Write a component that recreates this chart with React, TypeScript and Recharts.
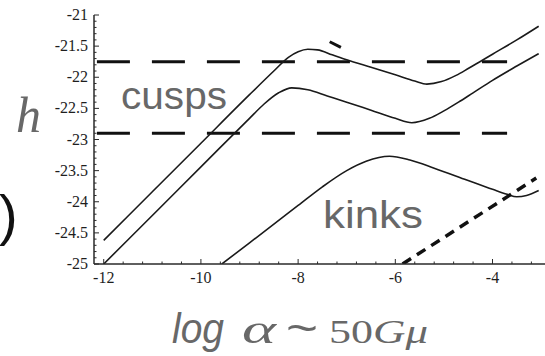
import React from "react";
import { LineChart, Line, XAxis, YAxis } from "recharts";

// log alpha values (x) and h values for each curve
const cuspUpperX = [-12, -11, -10, -9, -8.5, -8.2, -8.0, -7.8, -7.6, -7.3, -7.0, -6.5, -6.0, -5.6, -5.35, -5.05, -4.75, -4.5, -4.26, -4.0, -3.5, -3.05];
const cuspUpperH = [-24.62, -23.84, -23.06, -22.28, -21.9, -21.68, -21.59, -21.55, -21.56, -21.64, -21.72, -21.84, -21.96, -22.06, -22.11, -22.07, -21.97, -21.86, -21.75, -21.63, -21.4, -21.18];

const cuspLowerX = [-12, -11, -10, -9, -8.7, -8.4, -8.13, -7.8, -7.4, -7.0, -6.5, -6.0, -5.66, -5.3, -5.0, -4.7, -4.4, -4.0, -3.5, -3.05];
const cuspLowerH = [-25.0, -24.22, -23.44, -22.66, -22.43, -22.25, -22.17, -22.2, -22.3, -22.4, -22.53, -22.66, -22.73, -22.66, -22.54, -22.4, -22.25, -22.05, -21.82, -21.62];

const kinkX = [-9.57, -9, -8, -7.5, -7.0, -6.6, -6.12, -5.7, -5.2, -4.53, -4.0, -3.7, -3.5, -3.3, -3.05];
const kinkH = [-25, -24.66, -24.06, -23.76, -23.5, -23.35, -23.27, -23.33, -23.46, -23.65, -23.8, -23.88, -23.92, -23.9, -23.82];

const kinkBoundX = [-5.85, -3.1];
const kinkBoundH = [-25, -23.62];

const markX = [-7.35, -7.12];
const markH = [-21.43, -21.52];

const cuspLevels = [-21.75, -22.9];
const levelSpan = [-12.14, -3.7];

const xMajor = [-12, -10, -8, -6, -4];
const yMajor = [-25, -24.5, -24, -23.5, -23, -22.5, -22, -21.5, -21];

const xMinor: number[] = [];
for (let k = 0; k <= 22; k++) xMinor.push(Math.round((-12 + 0.4 * k) * 10) / 10);
const yMinor: number[] = [];
for (let k = 0; k <= 40; k++) yMinor.push(Math.round((-25 + 0.1 * k) * 10) / 10);

const pts = (xs: number[], hs: number[]) => xs.map((x, i) => ({ x, h: hs[i] }));

const isMajorX = (v: number) => xMajor.some((m) => Math.abs(m - v) < 1e-6);
const isMajorY = (v: number) => yMajor.some((m) => Math.abs(m - v) < 1e-6);

const AXIS = "#2a2a2a";
const GREY = "#686868";
const SERIF = "'Liberation Serif', 'Times New Roman', Times, serif";
const SANS = "'Liberation Sans', Arial, Helvetica, sans-serif";
const tickFont = { fontFamily: SERIF, fontSize: 16, fill: "#1e1e1e" };

function BottomTick(props: any) {
  const { x, y, payload } = props;
  const major = isMajorX(payload.value);
  return (
    <g>
      <line x1={x} x2={x} y1={y} y2={y - (major ? 5 : 2.5)} stroke={AXIS} strokeWidth={1} />
      {major && (
        <text x={x} y={y + 19} textAnchor="middle" style={tickFont}>
          {payload.value}
        </text>
      )}
    </g>
  );
}

function TopTick(props: any) {
  const { x, y, payload } = props;
  const major = isMajorX(payload.value);
  return <line x1={x} x2={x} y1={y} y2={y + (major ? 4 : 2.5)} stroke={AXIS} strokeWidth={1} />;
}

function LeftTick(props: any) {
  const { x, y, payload } = props;
  const major = isMajorY(payload.value);
  return (
    <g>
      <line x1={x} x2={x + (major ? 5 : 2.5)} y1={y} y2={y} stroke={AXIS} strokeWidth={1} />
      {major && (
        <text x={x - 6} y={y + 5} textAnchor="end" style={tickFont}>
          {payload.value}
        </text>
      )}
    </g>
  );
}

export default function App() {
  const curve = { type: "monotone" as const, dataKey: "h", dot: false, isAnimationActive: false, xAxisId: "b", stroke: "#1a1a1a", strokeWidth: 1.6 };
  return (
    <div style={{ position: "absolute", left: 0, top: 0, width: 545, height: 356, background: "#fff" }}>
      <LineChart width={545} height={356} margin={{ top: 15, right: 0, left: 0, bottom: 62 }}>
        <XAxis
          xAxisId="b"
          type="number"
          dataKey="x"
          domain={[-12.2, -2.92]}
          allowDataOverflow
          ticks={xMinor}
          interval={0}
          tickSize={0}
          tickMargin={0}
          tick={<BottomTick />}
          axisLine={{ stroke: AXIS, strokeWidth: 1.5 }}
          height={30}
        />
        <XAxis
          xAxisId="t"
          orientation="top"
          type="number"
          dataKey="x"
          domain={[-12.2, -2.92]}
          allowDataOverflow
          ticks={xMinor}
          interval={0}
          tickSize={0}
          tickMargin={0}
          tick={<TopTick />}
          axisLine={{ stroke: AXIS, strokeWidth: 1.5 }}
          height={0}
        />
        <YAxis
          type="number"
          domain={[-25, -21]}
          allowDataOverflow
          ticks={yMinor}
          interval={0}
          tickSize={0}
          tickMargin={0}
          tick={<LeftTick />}
          axisLine={{ stroke: AXIS, strokeWidth: 1.5 }}
          width={94}
        />
        {cuspLevels.map((lv) => (
          <Line
            key={lv}
            data={levelSpan.map((x) => ({ x, h: lv }))}
            dataKey="h"
            xAxisId="b"
            type="linear"
            dot={false}
            stroke="#111"
            strokeWidth={3}
            strokeDasharray="33 22"
            isAnimationActive={false}
          />
        ))}
        <Line {...curve} data={pts(cuspUpperX, cuspUpperH)} />
        <Line {...curve} data={pts(cuspLowerX, cuspLowerH)} />
        <Line {...curve} data={pts(kinkX, kinkH)} />
        <Line
          data={pts(kinkBoundX, kinkBoundH)}
          dataKey="h"
          xAxisId="b"
          type="linear"
          dot={false}
          stroke="#111"
          strokeWidth={3.5}
          strokeDasharray="10 7"
          isAnimationActive={false}
        />
        <Line
          data={pts(markX, markH)}
          dataKey="h"
          xAxisId="b"
          type="linear"
          dot={false}
          stroke="#111"
          strokeWidth={3}
          isAnimationActive={false}
        />
      </LineChart>
      <svg width={545} height={356} style={{ position: "absolute", left: 0, top: 0, pointerEvents: "none" }}>
        <text x={121} y={109} style={{ fontFamily: SANS, fontSize: 38, fill: GREY }} textLength={106} lengthAdjust="spacingAndGlyphs">
          cusps
        </text>
        <text x={323} y={228} style={{ fontFamily: SANS, fontSize: 38, fill: GREY }} textLength={100} lengthAdjust="spacingAndGlyphs">
          kinks
        </text>
        <text x={16} y={132} style={{ fontFamily: SERIF, fontStyle: "italic", fontSize: 50, fill: GREY }}>
          h
        </text>
        <text x={-1} y={234} style={{ fontFamily: SANS, fontSize: 56, fill: "#111" }}>
          )
        </text>
        <text x={172} y={343} style={{ fontFamily: SANS, fontStyle: "italic", fontSize: 42, fill: GREY }} textLength={52} lengthAdjust="spacingAndGlyphs">
          log
        </text>
        <text x={242} y={343} style={{ fontFamily: SERIF, fontStyle: "italic", fontSize: 40, fill: GREY }} textLength={34} lengthAdjust="spacingAndGlyphs">
          α
        </text>
        <text x={286} y={343} style={{ fontFamily: SANS, fontSize: 44, fill: GREY }} textLength={32} lengthAdjust="spacingAndGlyphs">
          ~
        </text>
        <text x={329} y={343} style={{ fontFamily: SERIF, fontSize: 34, fill: GREY }} textLength={44} lengthAdjust="spacingAndGlyphs">
          50
        </text>
        <text x={373} y={343} style={{ fontFamily: SERIF, fontStyle: "italic", fontSize: 34, fill: GREY }} textLength={55} lengthAdjust="spacingAndGlyphs">
          Gμ
        </text>
      </svg>
    </div>
  );
}
